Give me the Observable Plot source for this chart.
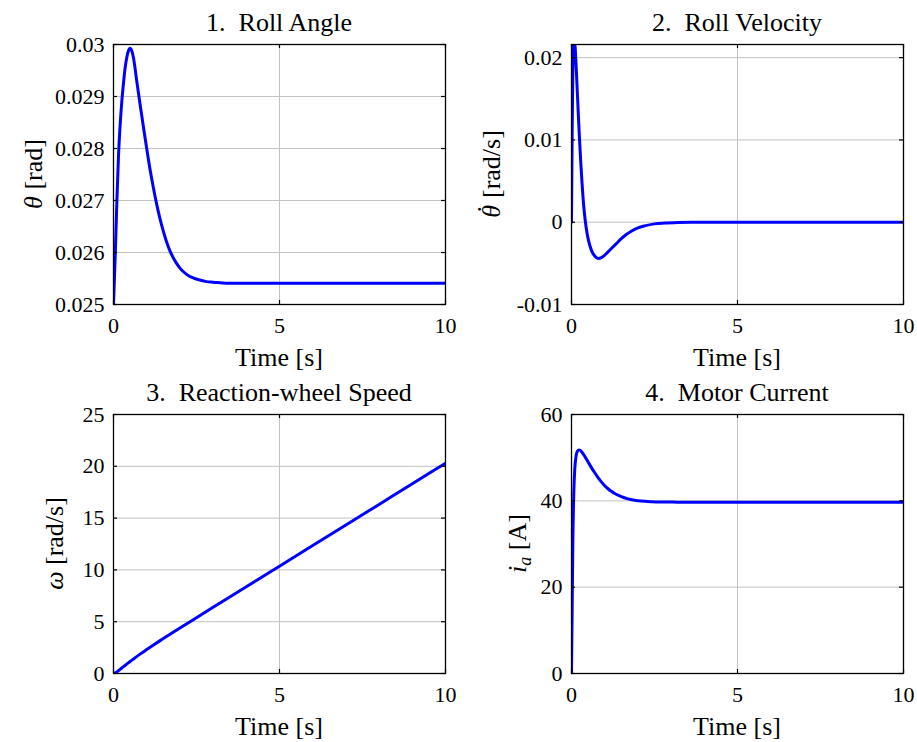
<!DOCTYPE html>
<html>
<head>
<meta charset="utf-8">
<script src="https://cdn.jsdelivr.net/npm/d3@7"></script>
<script src="https://cdn.jsdelivr.net/npm/@observablehq/plot@0.6"></script>
<style>
  html, body { margin: 0; padding: 0; background: #fff; }
  #wrap { position: relative; width: 917px; height: 742px; background: #fff; }
  #wrap > svg { position: absolute; }
  text { white-space: pre; }
</style>
</head>
<body>
<div id="wrap"></div>
<script>
// ---------- data ----------
const timeTicks = [0, 5, 10];

const rollTime  = [0, 0.05, 0.1, 0.15, 0.2, 0.25, 0.3, 0.35, 0.4, 0.45, 0.5, 0.55, 0.6, 0.7, 0.8, 0.9, 1.0, 1.1, 1.2, 1.3, 1.4, 1.5, 1.6, 1.7, 1.8, 1.9, 2.0, 2.2, 2.4, 2.6, 2.8, 3.0, 3.4, 4, 5, 6, 7, 8, 9, 10];
const rollAngle = [0.025, 0.0259, 0.02695, 0.02785, 0.02845, 0.0289, 0.02925, 0.02955, 0.02975, 0.02988, 0.02993, 0.02988, 0.02975, 0.0293, 0.02885, 0.02842, 0.028, 0.0276, 0.02725, 0.02693, 0.02665, 0.02641, 0.0262, 0.02603, 0.0259, 0.02579, 0.0257, 0.02558, 0.02551, 0.02547, 0.02544, 0.02543, 0.02541, 0.02541, 0.02541, 0.02541, 0.02541, 0.02541, 0.02541, 0.02541];
const rollTicks = [0.025, 0.026, 0.027, 0.028, 0.029, 0.03];

const velTime = [0, 0.02, 0.04, 0.06, 0.08, 0.1, 0.13, 0.16, 0.2, 0.24, 0.28, 0.32, 0.37, 0.42, 0.48, 0.55, 0.62, 0.7, 0.8, 0.9, 1.0, 1.1, 1.2, 1.35, 1.5, 1.65, 1.8, 2.0, 2.2, 2.5, 2.8, 3.2, 3.6, 4, 5, 6, 7, 8, 9, 10];
const rollVel = [0, 0.011, 0.018, 0.0215, 0.0222, 0.0218, 0.0198, 0.0172, 0.0136, 0.0102, 0.0072, 0.0046, 0.0019, 0, -0.0016, -0.0028, -0.0036, -0.0041, -0.0044, -0.0043, -0.004, -0.0036, -0.0032, -0.0026, -0.002, -0.0015, -0.0011, -0.0007, -0.00045, -0.0002, -0.0001, -0.00003, 0, 0, 0, 0, 0, 0, 0, 0];
const velTicks = [-0.01, 0, 0.01, 0.02];

const wheelTime  = [0, 0.1, 0.2, 0.3, 0.4, 0.5, 0.6, 0.8, 1.0, 1.25, 1.5, 1.75, 2, 2.5, 3, 4, 5, 6, 7, 8, 9, 10];
const wheelSpeed = [0, 0.15, 0.4, 0.66, 0.91, 1.16, 1.4, 1.87, 2.31, 2.85, 3.37, 3.89, 4.39, 5.39, 6.39, 8.37, 10.36, 12.35, 14.33, 16.32, 18.31, 20.3];
const wheelTicks = [0, 5, 10, 15, 20, 25];

const curTime = [0, 0.02, 0.04, 0.07, 0.1, 0.14, 0.18, 0.22, 0.26, 0.3, 0.4, 0.5, 0.6, 0.7, 0.8, 0.9, 1.0, 1.1, 1.2, 1.3, 1.4, 1.5, 1.7, 1.9, 2.1, 2.4, 2.8, 3.2, 4, 5, 6, 7, 8, 9, 10];
const current = [0, 15, 30, 42, 47.5, 50.5, 51.5, 51.8, 51.7, 51.4, 50.3, 49.0, 47.7, 46.5, 45.4, 44.4, 43.5, 42.8, 42.2, 41.7, 41.3, 40.95, 40.45, 40.15, 39.95, 39.8, 39.72, 39.7, 39.7, 39.7, 39.7, 39.7, 39.7, 39.7, 39.7];
const curTicks = [0, 20, 40, 60];

const titles = ["1.\u2002Roll Angle", "2.\u2002Roll Velocity", "3.\u2002Reaction-wheel Speed", "4.\u2002Motor Current"];
const xLabel = "Time [s]";

// ---------- drawing ----------
const FONT = "'Liberation Serif', 'Times New Roman', serif";
const wrap = document.getElementById("wrap");

function panel(cfg) {
  const fw = cfg.width - cfg.ml - cfg.mr;
  const fh = cfg.height - cfg.mt - cfg.mb;
  const data = cfg.xs.map((x, i) => ({x, y: cfg.ys[i]}));
  const tick = 4;
  const chart = Plot.plot({
    width: cfg.width, height: cfg.height,
    marginLeft: cfg.ml, marginRight: cfg.mr, marginTop: cfg.mt, marginBottom: cfg.mb,
    style: {fontFamily: FONT, fontSize: "22px", color: "black", background: "white", overflow: "visible"},
    x: {domain: [0, 10], ticks: timeTicks, tickSize: 0, tickPadding: 13, tickFormat: d => String(d), label: null},
    y: {domain: cfg.yDomain, ticks: cfg.yTicks, tickSize: 0, tickPadding: 9, tickFormat: cfg.fmt, label: null},
    marks: [
      Plot.ruleX(timeTicks, {stroke: "#c2c2c2", strokeWidth: 1}),
      Plot.ruleY(cfg.yTicks, {stroke: "#c2c2c2", strokeWidth: 1}),
      Plot.line(data, {x: "x", y: "y", stroke: "#0000ff", strokeWidth: 3, curve: "monotone-x", clip: true, strokeLinejoin: "round"}),
      Plot.ruleX(timeTicks, {insetTop: fh - tick, stroke: "black", strokeWidth: 1.2}),
      Plot.ruleX(timeTicks, {insetBottom: fh - tick, stroke: "black", strokeWidth: 1.2}),
      Plot.ruleY(cfg.yTicks, {insetRight: fw - tick, stroke: "black", strokeWidth: 1.2}),
      Plot.ruleY(cfg.yTicks, {insetLeft: fw - tick, stroke: "black", strokeWidth: 1.2}),
      Plot.frame({stroke: "black", strokeWidth: 1.3})
    ]
  });
  chart.style.left = cfg.left + "px";
  chart.style.top = cfg.top + "px";
  const svg = d3.select(chart);
  const cx = cfg.ml + fw / 2;
  const cy = cfg.mt + fh / 2;
  svg.append("text").attr("x", cx).attr("y", cfg.mt - 13)
    .attr("text-anchor", "middle").attr("font-family", FONT).attr("font-size", 26).attr("fill", "black")
    .text(cfg.title);
  svg.append("text").attr("x", cx).attr("y", cfg.mt + fh + 62)
    .attr("text-anchor", "middle").attr("font-family", FONT).attr("font-size", 26).attr("fill", "black")
    .text(xLabel);
  const yl = svg.append("text")
    .attr("transform", `translate(${cfg.ylx},${cy}) rotate(-90)`)
    .attr("text-anchor", "middle").attr("font-family", FONT).attr("font-size", 26).attr("fill", "black");
  cfg.ylabel(yl);
  wrap.appendChild(chart);
}

const fmtDec = d => String(+d.toFixed(3));

panel({left: 0, top: 0, width: 458, height: 371, ml: 113, mr: 13, mt: 44, mb: 67,
  xs: rollTime, ys: rollAngle, yDomain: [0.025, 0.03], yTicks: rollTicks, fmt: fmtDec,
  title: titles[0], ylx: 42,
  ylabel: t => { t.append("tspan").attr("font-style", "italic").text("\u03B8"); t.append("tspan").text(" [rad]"); }
});
panel({left: 458, top: 0, width: 459, height: 371, ml: 113, mr: 14, mt: 44, mb: 67,
  xs: velTime, ys: rollVel, yDomain: [-0.01, 0.0216], yTicks: velTicks, fmt: d => (d < 0 ? "-" : "") + String(+Math.abs(d).toFixed(3)),
  title: titles[1], ylx: 42,
  ylabel: t => {
    t.append("tspan").attr("font-style", "italic").text("\u03B8");
    t.append("tspan").attr("dx", -7.5).attr("dy", -19).text(".");
    t.append("tspan").attr("dx", 1.5).attr("dy", 19).text(" [rad/s]");
  }
});
panel({left: 0, top: 371, width: 458, height: 371, ml: 113, mr: 13, mt: 43, mb: 69,
  xs: wheelTime, ys: wheelSpeed, yDomain: [0, 25], yTicks: wheelTicks, fmt: d => String(d),
  title: titles[2], ylx: 63,
  ylabel: t => { t.append("tspan").attr("font-style", "italic").text("\u03C9"); t.append("tspan").text(" [rad/s]"); }
});
panel({left: 458, top: 371, width: 459, height: 371, ml: 113, mr: 14, mt: 43, mb: 69,
  xs: curTime, ys: current, yDomain: [0, 60], yTicks: curTicks, fmt: d => String(d),
  title: titles[3], ylx: 68,
  ylabel: t => {
    t.append("tspan").attr("font-style", "italic").text("i");
    t.append("tspan").attr("font-style", "italic").attr("font-size", 18).attr("dy", 5).text("a");
    t.append("tspan").attr("dy", -5).text(" [A]");
  }
});
</script>
</body>
</html>
